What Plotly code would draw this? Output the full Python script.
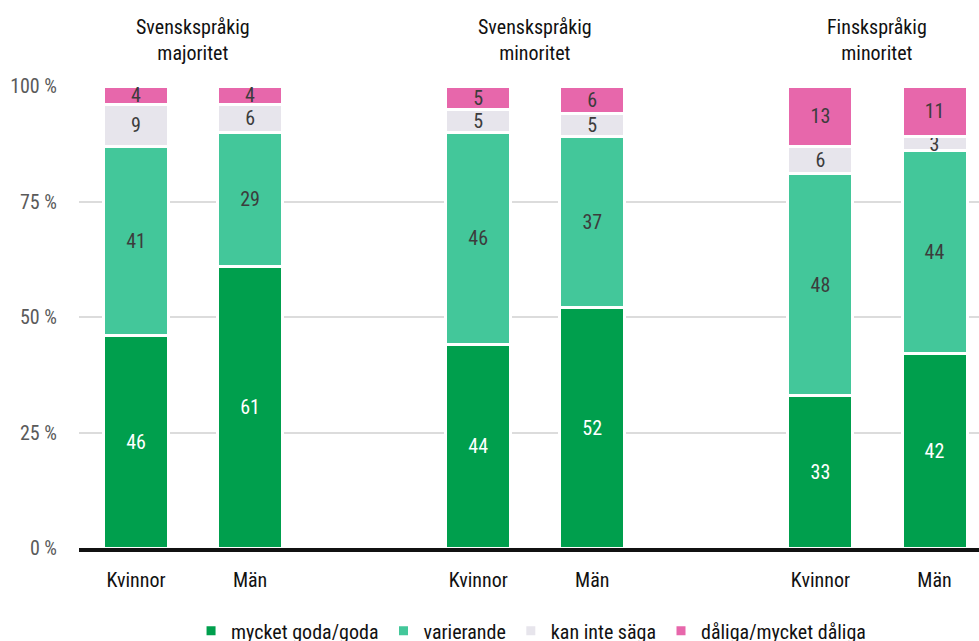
import plotly.graph_objects as go

groups = ["Svenskspråkig<br>majoritet", "Svenskspråkig<br>minoritet", "Finskspråkig<br>minoritet"]
genders = ["Kvinnor", "Män"]
series_names = ["mycket goda/goda", "varierande", "kan inte säga", "dåliga/mycket dåliga"]
goda = [46, 61, 44, 52, 33, 42]
varierande = [41, 29, 46, 37, 48, 44]
kan_inte = [9, 6, 5, 5, 6, 3]
daliga = [4, 4, 5, 6, 13, 11]
y_ticks = [0, 25, 50, 75, 100]
y_tick_labels = ["0 %", "25 %", "50 %", "75 %", "100 %"]

colors = ["#009F4D", "#43C79A", "#E7E5EC", "#E767AB"]
text_colors = ["#FFFFFF", "#3C3C3C", "#3C3C3C", "#3C3C3C"]

FONT = "Roboto Condensed, DejaVu Sans Condensed, sans-serif"
FS = 20

# x positions: groups separated by a one-bar gap
xpos = []
xlabels = []
for gi in range(len(groups)):
    for si, g in enumerate(genders):
        xpos.append(gi * 3 + si)
        xlabels.append(g)

fig = go.Figure()
for name, vals, c, tc in zip(series_names, [goda, varierande, kan_inte, daliga], colors, text_colors):
    fig.add_trace(go.Bar(
        x=xpos, y=vals, name=name,
        marker=dict(color=c, line=dict(color="white", width=3)),
        width=0.57,
        text=[str(v) for v in vals],
        textposition="inside", insidetextanchor="middle", textangle=0,
        constraintext="none",
        insidetextfont=dict(color=tc, size=FS, family=FONT),
        hoverinfo="skip",
    ))

for gi, gname in enumerate(groups):
    fig.add_annotation(x=gi * 3 + 0.5, y=1.1, xref="x", yref="paper",
                       text=gname, showarrow=False, yanchor="middle",
                       font=dict(size=FS, color="#111111", family=FONT))

fig.update_layout(
    barmode="stack",
    width=979, height=641,
    margin=dict(l=79, r=0, t=86, b=93),
    paper_bgcolor="white", plot_bgcolor="white",
    font=dict(family=FONT, size=FS, color="#111111"),
    showlegend=True,
    legend=dict(orientation="h", x=0.1245, xanchor="left", xref="paper",
                y=0.016, yanchor="middle", yref="container",
                font=dict(size=FS, color="#111111", family=FONT), traceorder="normal"),
    xaxis=dict(range=[-0.5, 7.39], tickvals=xpos, ticktext=xlabels,
               showgrid=False, zeroline=False, showline=True, linecolor="#111111", linewidth=4,
               ticks="outside", ticklen=11, tickcolor="rgba(0,0,0,0)",
               tickfont=dict(size=FS, color="#111111", family=FONT)),
    yaxis=dict(range=[0, 100], tickvals=y_ticks, ticktext=y_tick_labels,
               showgrid=True, gridcolor="#DCDCDC", gridwidth=2, zeroline=False, showline=False,
               ticks="outside", ticklen=17, tickcolor="rgba(0,0,0,0)",
               tickfont=dict(size=FS, color="#5A5A5A", family=FONT)),
)

fig.write_html("out.html")
